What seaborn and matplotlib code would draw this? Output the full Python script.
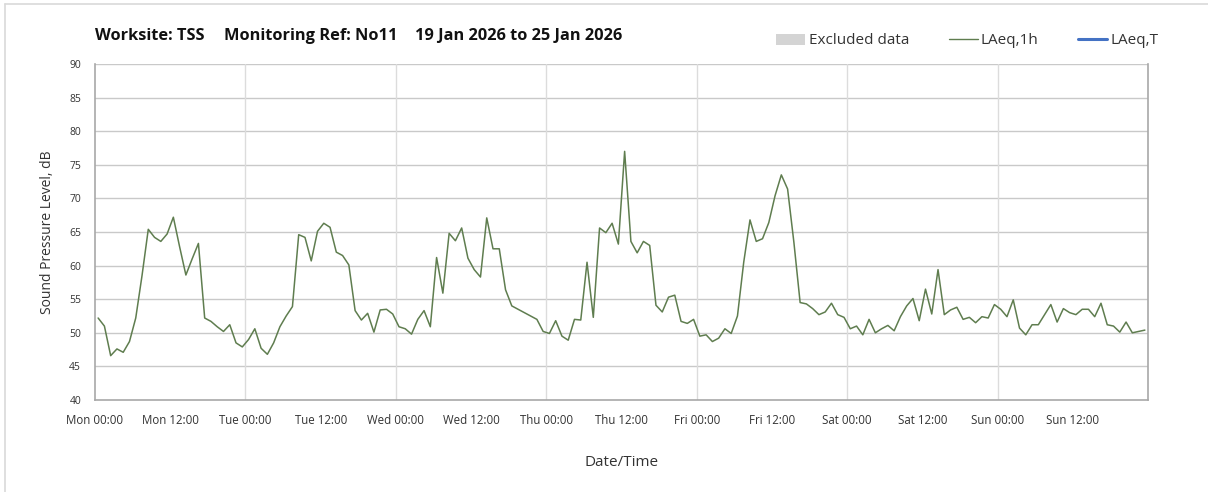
import numpy as np
import pandas as pd
import matplotlib
matplotlib.use("Agg")
import matplotlib.pyplot as plt
from matplotlib.patches import Patch
from matplotlib.lines import Line2D
import seaborn as sns

# Hourly LAeq,1h readings, Mon 00:00 -> Sun 23:00 (168 hours)
laeq_1h = [
    52.2, 51.0, 46.6, 47.6, 47.1, 48.7, 52.2, 58.5, 65.4, 64.2, 63.6, 64.7,
    67.2, 62.8, 58.6, 61.0, 63.3, 52.2, 51.7, 50.9, 50.2, 51.2, 48.5, 47.9,
    49.0, 50.6, 47.7, 46.8, 48.5, 50.9, 52.5, 53.9, 64.6, 64.2, 60.7, 65.1,
    66.3, 65.7, 62.0, 61.5, 60.1, 53.3, 51.9, 52.9, 50.1, 53.4, 53.5, 52.8,
    50.9, 50.6, 49.8, 52.0, 53.3, 50.9, 61.2, 55.9, 64.8, 63.7, 65.6, 61.1,
    59.4, 58.3, 67.1, 62.5, 62.5, 56.4, 54.0, 53.5, 53.0, 52.5, 52.0, 50.2,
    49.9, 51.8, 49.5, 48.9, 52.0, 51.9, 60.5, 52.3, 65.6, 64.9, 66.3, 63.2,
    77.0, 63.6, 61.9, 63.6, 63.0, 54.1, 53.1, 55.3, 55.6, 51.7, 51.4, 52.0,
    49.5, 49.7, 48.7, 49.2, 50.6, 49.9, 52.5, 60.5, 66.8, 63.6, 64.0, 66.4,
    70.4, 73.5, 71.4, 63.5, 54.5, 54.3, 53.6, 52.7, 53.1, 54.4, 52.7, 52.3,
    50.6, 51.0, 49.7, 52.0, 50.0, 50.6, 51.1, 50.3, 52.4, 54.0, 55.1, 51.8,
    56.5, 52.8, 59.4, 52.7, 53.4, 53.8, 52.0, 52.3, 51.5, 52.4, 52.2, 54.2,
    53.5, 52.4, 54.9, 50.7, 49.7, 51.2, 51.2, 52.7, 54.2, 51.6, 53.6, 53.0,
    52.7, 53.5, 53.5, 52.4, 54.4, 51.2, 51.0, 50.1, 51.6, 50.0, 50.2, 50.4,
]
hours = np.arange(len(laeq_1h)) + 0.5

tick_labels = [
    "Mon 00:00", "Mon 12:00", "Tue 00:00", "Tue 12:00", "Wed 00:00", "Wed 12:00",
    "Thu 00:00", "Thu 12:00", "Fri 00:00", "Fri 12:00", "Sat 00:00", "Sat 12:00",
    "Sun 00:00", "Sun 12:00",
]

title_parts = ["Worksite: TSS", "Monitoring Ref: No11", "19 Jan 2026 to 25 Jan 2026"]

df = pd.DataFrame({"hour": hours, "LAeq": laeq_1h})

sns.set_style("white")
plt.rcParams["font.family"] = ["Open Sans", "DejaVu Sans"]

line_color = "#5f7d4f"
grid_color = "#c9c9c9"
vgrid_color = "#dcdcdc"
spine_color = "#a8a8a8"

fig = plt.figure(figsize=(12.08, 4.92), dpi=100)
ax = fig.add_axes([95 / 1208, 1 - 400 / 492, (1148 - 95) / 1208, (400 - 64) / 492])

sns.lineplot(data=df, x="hour", y="LAeq", ax=ax, color=line_color, linewidth=1.1)

ax.set_xlim(0, 168)
ax.set_ylim(40, 90)
ax.set_yticks(np.arange(40, 91, 5))
ax.set_xticks(np.arange(0, 169, 12))
ax.set_xticklabels(tick_labels + [""], fontsize=8.3, color="#333333")
ax.tick_params(axis="y", labelsize=7.5, labelcolor="#333333")
ax.tick_params(axis="both", direction="out", length=4, width=0.8, color=spine_color, pad=6)

# horizontal grid every 5 dB, vertical grid at each midnight
for yv in np.arange(45, 91, 5):
    ax.axhline(yv, color=grid_color, linewidth=1.0, zorder=0)
for xv in np.arange(24, 168, 24):
    ax.axvline(xv, color=vgrid_color, linewidth=1.0, zorder=0)

for side in ["left", "bottom", "right"]:
    ax.spines[side].set_color(spine_color)
    ax.spines[side].set_linewidth(1.2)
ax.spines["top"].set_visible(False)

ax.set_xlabel("Date/Time", fontsize=11, color="#333333", labelpad=20)
ax.set_ylabel("Sound Pressure Level, dB", fontsize=10, color="#333333", labelpad=10)

for part, px in zip(title_parts, [95, 224, 415]):
    fig.text(px / 1208, 1 - 36 / 492, part, fontsize=11.8, fontweight="bold",
             color="#111111", va="center", ha="left")

handles = [
    Patch(facecolor="#d4d4d4", edgecolor="none", label="Excluded data"),
    Line2D([], [], color=line_color, linewidth=1.0, label="LAeq,1h"),
    Line2D([], [], color="#4472c4", linewidth=2.2, label="LAeq,T"),
]
fig.legend(handles=handles, loc="center right", bbox_to_anchor=(1172 / 1208, 1 - 41 / 492),
           ncol=3, frameon=False, fontsize=11, handlelength=1.9, handletextpad=0.2,
           columnspacing=2.6, labelcolor="#333333")

# outer chart border (top and left edges visible)
fig.add_artist(Line2D([5 / 1208, 5 / 1208], [0, 1 - 4 / 492], transform=fig.transFigure,
                      color="#d9d9d9", linewidth=1.2))
fig.add_artist(Line2D([5 / 1208, 1], [1 - 4 / 492, 1 - 4 / 492], transform=fig.transFigure,
                      color="#d9d9d9", linewidth=1.2))

fig.savefig("out.png", dpi=100)
